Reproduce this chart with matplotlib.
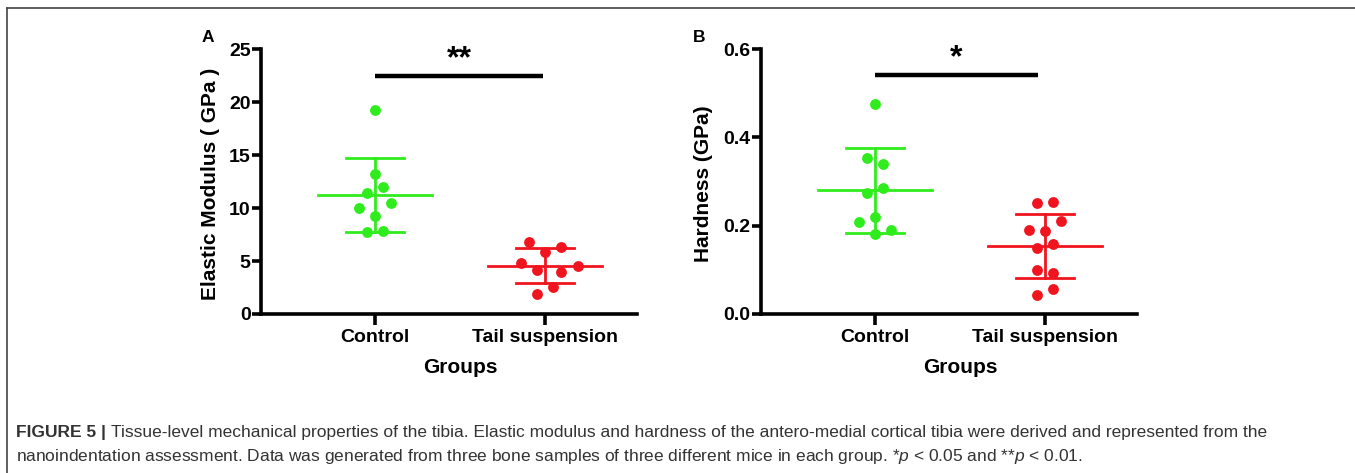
import numpy as np
import matplotlib
matplotlib.use('Agg')
import matplotlib.pyplot as plt
from matplotlib.lines import Line2D

# ============================================
# Data
# ============================================
groups = ['Control', 'Tail suspension']

modulus_control = [19.25, 13.2, 12.0, 11.4, 10.5, 9.97, 9.2, 7.8, 7.7]
modulus_tail = [6.82, 6.29, 5.88, 4.84, 4.56, 4.18, 3.99, 2.55, 1.86]

hardness_control = [0.4755, 0.353, 0.339, 0.286, 0.274, 0.219, 0.208, 0.190, 0.181]
hardness_tail = [0.2524, 0.254, 0.210, 0.190, 0.188, 0.158, 0.150, 0.1005,
                 0.0937, 0.0574, 0.0423]

modulus_ticks = [0, 5, 10, 15, 20, 25]
hardness_ticks = [0.0, 0.2, 0.4, 0.6]

sig_a = '**'
sig_b = '*'

# horizontal scatter steps (GraphPad style spreading), in units of one step
spread_a_control = [0, 0, 1, -1, 2, -2, 0, 1, -1]
spread_a_tail = [-2, 2, 0, -3, 4, -1, 2, 1, -1]
spread_b_control = [0, -1, 1, 1, -1, 0, -2, 2, 0]
spread_b_tail = [-1, 1, 2, -2, 0, 1, -1, -1, 1, 1, -1]

GREEN = '#2fec1c'
RED = '#f0141e'

plt.rcParams['font.family'] = ['Liberation Sans', 'DejaVu Sans']
plt.rcParams['mathtext.fontset'] = 'custom'
plt.rcParams['mathtext.rm'] = 'Liberation Sans'
plt.rcParams['mathtext.it'] = 'Liberation Sans:italic'

W, H = 1355, 473
fig = plt.figure(figsize=(W / 100, H / 100), dpi=100)


def px_box(left, top, right, bottom):
    return [left / W, 1 - bottom / H, (right - left) / W, (bottom - top) / H]


# ============================================
# Function: one scatter-dot panel
# ============================================
def draw_panel(ax, series, spreads, ylim, yticks, ylabel, fmt, sig_text,
               sig_y, star_y, bar_end, ylabel_x):
    step = 0.048
    for i, (vals, spread, col) in enumerate(zip(series, spreads, [GREEN, RED])):
        vals = np.array(vals)
        x = i + step * np.array(spread)
        ax.plot(x, vals, 'o', color=col, ms=7.8, mec='none', zorder=3,
                clip_on=False)
        m = vals.mean()
        sd = vals.std(ddof=1)
        ax.plot([i - 0.333, i + 0.333], [m, m], color=col, lw=2.0, zorder=2)
        ax.plot([i - 0.17, i + 0.17], [m + sd, m + sd], color=col, lw=2.0, zorder=2)
        ax.plot([i - 0.17, i + 0.17], [m - sd, m - sd], color=col, lw=2.0, zorder=2)
        ax.plot([i, i], [m - sd, m + sd], color=col, lw=2.0, zorder=2)

    ax.plot([0, bar_end], [sig_y, sig_y], color='black', lw=3.2, clip_on=False,
            solid_capstyle='butt')
    ax.text(bar_end / 2, star_y, sig_text, ha='center', va='center',
            fontsize=23, fontweight='bold', clip_on=False)

    ax.set_xlim(-0.67, 1.54)
    ax.set_ylim(*ylim)
    ax.set_xticks([0, 1])
    ax.set_xticklabels(groups, fontsize=14, fontweight='bold')
    ax.set_yticks(yticks)
    ax.set_yticklabels([fmt.format(t) for t in yticks], fontsize=14,
                       fontweight='bold')
    for s in ['top', 'right']:
        ax.spines[s].set_visible(False)
    for s in ['left', 'bottom']:
        ax.spines[s].set_linewidth(2.6)
    ax.tick_params(axis='y', length=6.5, width=2.6, pad=1)
    ax.tick_params(axis='x', length=8, width=2.6, pad=2.5)
    ax.set_ylabel(ylabel, fontsize=15, fontweight='bold')
    ax.yaxis.set_label_coords(ylabel_x, 0.49)
    ax.set_xlabel('Groups', fontsize=15, fontweight='bold')
    ax.xaxis.set_label_coords(0.53, -0.165)


ax_a = fig.add_axes(px_box(261, 49, 637, 314))
draw_panel(ax_a, [modulus_control, modulus_tail],
           [spread_a_control, spread_a_tail], (0, 25), modulus_ticks,
           'Elastic Modulus ( GPa )', '{:g}', sig_a, 22.5, 24.0, 0.99, -0.108)

ax_b = fig.add_axes(px_box(761, 49, 1137, 314))
draw_panel(ax_b, [hardness_control, hardness_tail],
           [spread_b_control, spread_b_tail], (0, 0.6), hardness_ticks,
           'Hardness (GPa)', '{:.1f}', sig_b, 0.541, 0.578, 0.96, -0.128)

# panel letters
fig.text(202 / W, 1 - 30 / H, 'A', fontsize=12.5, fontweight='bold', va='top')
fig.text(693 / W, 1 - 30 / H, 'B', fontsize=12.5, fontweight='bold', va='top')

# frame lines (top and left only, as in the journal layout)
fig.add_artist(Line2D([7.5 / W, 1], [1 - 8.5 / H, 1 - 8.5 / H],
                      color='#444444', lw=1.2))
fig.add_artist(Line2D([7.5 / W, 7.5 / W], [0, 1 - 8.5 / H],
                      color='#444444', lw=1.2))

# ============================================
# Caption
# ============================================
cap_col = '#333333'
cap_size = 12.5
t1 = fig.text(16 / W, 1 - 437 / H, 'FIGURE 5 | ', fontsize=cap_size,
              fontweight='bold', color=cap_col, va='baseline')
fig.canvas.draw()
bb = t1.get_window_extent()
fig.text(bb.x1 / W, 1 - 437 / H,
         'Tissue-level mechanical properties of the tibia. Elastic modulus and '
         'hardness of the antero-medial cortical tibia were derived and '
         'represented from the',
         fontsize=cap_size, color=cap_col, va='baseline')
fig.text(16 / W, 1 - 461 / H,
         'nanoindentation assessment. Data was generated from three bone samples '
         'of three different mice in each group. *$p$ < 0.05 and **$p$ < 0.01.',
         fontsize=cap_size, color=cap_col, va='baseline')

fig.savefig('out.png', dpi=100)
